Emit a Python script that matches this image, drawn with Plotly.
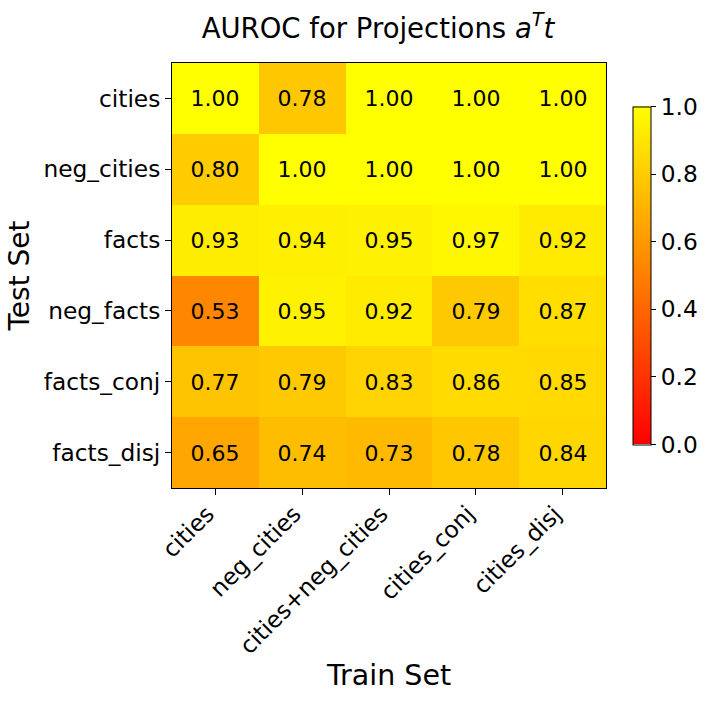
import plotly.graph_objects as go

train_sets = ["cities", "neg_cities", "cities+neg_cities", "cities_conj", "cities_disj"]
test_sets = ["cities", "neg_cities", "facts", "neg_facts", "facts_conj", "facts_disj"]

row_cities = [1.00, 0.78, 1.00, 1.00, 1.00]
row_neg_cities = [0.80, 1.00, 1.00, 1.00, 1.00]
row_facts = [0.93, 0.94, 0.95, 0.97, 0.92]
row_neg_facts = [0.53, 0.95, 0.92, 0.79, 0.87]
row_facts_conj = [0.77, 0.79, 0.83, 0.86, 0.85]
row_facts_disj = [0.65, 0.74, 0.73, 0.78, 0.84]

z = [row_cities, row_neg_cities, row_facts, row_neg_facts, row_facts_conj, row_facts_disj]

FONT = "DejaVu Sans"
TICK = 23.3

fig = go.Figure(
    go.Heatmap(
        z=z,
        x=train_sets,
        y=test_sets,
        zmin=0,
        zmax=1,
        colorscale=[[0, "rgb(255,0,0)"], [1, "rgb(255,255,0)"]],
        texttemplate="%{z:.2f}",
        textfont=dict(family=FONT, size=22, color="black"),
        colorbar=dict(
            thickness=18,
            lenmode="pixels",
            len=338,
            x=(633 - 172) / 434,
            xanchor="left",
            xpad=0,
            ypad=0,
            y=0.5,
            yanchor="middle",
            outlinecolor="black",
            outlinewidth=1,
            ticks="outside",
            ticklen=5,
            tickcolor="black",
            tickvals=[0, 0.2, 0.4, 0.6, 0.8, 1.0],
            ticktext=["0.0", "0.2", "0.4", "0.6", "0.8", "1.0"],
            tickfont=dict(family=FONT, size=TICK, color="black"),
        ),
    )
)

fig.update_layout(
    width=705,
    height=701,
    margin=dict(l=172, r=99, t=63, b=213, autoexpand=False),
    paper_bgcolor="white",
    plot_bgcolor="white",
    font=dict(family=FONT, color="black"),
    title=dict(
        text="AUROC for Projections <i>a</i><sup><i>T</i></sup><i>t</i>",
        x=378 / 705,
        xanchor="center",
        y=1 - 28 / 701,
        yanchor="middle",
        font=dict(family=FONT, size=27.5, color="black"),
    ),
    xaxis=dict(
        title=dict(text="Train Set", font=dict(family=FONT, size=28.5), standoff=5),
        automargin=False,
        tickangle=-45,
        tickfont=dict(family=FONT, size=TICK),
        ticklabelshift=-8,
        ticklabelstandoff=-4,
        ticks="outside",
        ticklen=6,
        tickcolor="black",
        showline=True,
        linecolor="black",
        linewidth=1,
        mirror=True,
        showgrid=False,
        zeroline=False,
    ),
    yaxis=dict(
        title=dict(text="Test Set", font=dict(family=FONT, size=28), standoff=5),
        automargin=False,
        autorange="reversed",
        tickfont=dict(family=FONT, size=TICK),
        ticks="outside",
        ticklen=6,
        tickcolor="black",
        showline=True,
        linecolor="black",
        linewidth=1,
        mirror=True,
        showgrid=False,
        zeroline=False,
    ),
)

fig.write_html(
    "out.html",
    config={"displayModeBar": False},
    post_script="document.body.style.margin='0';document.body.style.padding='0';",
)
